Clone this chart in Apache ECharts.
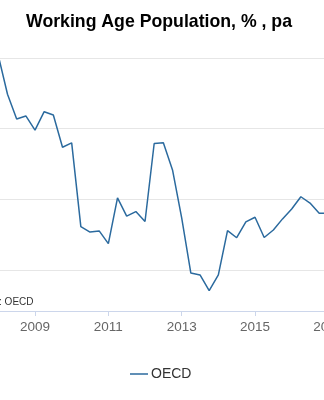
<!DOCTYPE html>
<html>
<head>
<meta charset="utf-8">
<script src="https://cdn.jsdelivr.net/npm/echarts@6/dist/echarts.min.js"></script>
<style>
html,body{margin:0;padding:0;background:#fff;}
#chart{width:324px;height:400px;}
</style>
</head>
<body>
<div id="chart"></div>
<script>
const titleText = "Working Age Population, % , pa";
const seriesName = "OECD";
const sourceText = "Source: OECD";
const quarters = ["2008Q1","2008Q2","2008Q3","2008Q4","2009Q1","2009Q2","2009Q3","2009Q4",
  "2010Q1","2010Q2","2010Q3","2010Q4","2011Q1","2011Q2","2011Q3","2011Q4",
  "2012Q1","2012Q2","2012Q3","2012Q4","2013Q1","2013Q2","2013Q3","2013Q4",
  "2014Q1","2014Q2","2014Q3","2014Q4","2015Q1","2015Q2","2015Q3","2015Q4",
  "2016Q1","2016Q2","2016Q3","2016Q4","2017Q1"];
const values = [1.21,1.046,0.941,0.954,0.894,0.972,0.958,0.821,
  0.840,0.484,0.461,0.466,0.412,0.606,0.529,0.548,
  0.506,0.837,0.840,0.725,0.521,0.287,0.279,0.212,
  0.279,0.467,0.437,0.504,0.524,0.438,0.470,0.517,
  0.559,0.611,0.584,0.541,0.541];
const xMin = 2007, xMax = 2019, xStep = 2;
const yMin = 0.126, yMax = 1.2;

const points = quarters.map((q, i) => {
  const y = parseInt(q.slice(0, 4), 10);
  const n = parseInt(q.slice(5), 10);
  return [y + (n - 1) / 4, values[i]];
});

const chart = echarts.init(document.getElementById('chart'));
chart.setOption({
  animation: false,
  backgroundColor: '#ffffff',
  grid: { left: -38.33, right: -77.7, top: 58, bottom: 89, containLabel: false, outerBoundsMode: 'none' },
  graphic: [
    { type: 'text', x: 159, y: 22, style: { text: titleText, fontFamily: 'Liberation Sans, Arial, sans-serif', fontWeight: 'bold', fontSize: 17.7, fill: '#000', textAlign: 'center', textVerticalAlign: 'middle' } },
    { type: 'text', x: 33.5, y: 302, style: { text: sourceText, fontFamily: 'Liberation Sans, Arial, sans-serif', fontSize: 10, fill: '#333', textAlign: 'right', textVerticalAlign: 'middle' } }
  ],
  legend: {
    show: true, left: 125, top: 362, itemWidth: 18, itemHeight: 1.5, icon: 'rect',
    textStyle: { fontFamily: 'Liberation Sans, Arial, sans-serif', fontSize: 14, color: '#333', padding: [0, 0, 0, -2] },
    data: [seriesName]
  },
  xAxis: {
    type: 'value', min: xMin, max: xMax, interval: xStep,
    axisLine: { show: true, lineStyle: { color: '#ccd6eb', width: 1 } },
    axisTick: { show: true, length: 5, lineStyle: { color: '#ccd6eb' } },
    splitLine: { show: false },
    axisLabel: { color: '#666', fontSize: 13.5, fontFamily: 'Liberation Sans, Arial, sans-serif', margin: 9, formatter: v => String(Math.round(v)) }
  },
  yAxis: {
    type: 'value', min: yMin, max: yMax, splitNumber: 4,
    axisLine: { show: false }, axisTick: { show: false }, axisLabel: { show: false },
    splitLine: { show: true, lineStyle: { color: '#e6e6e6', width: 1 } }
  },
  series: [{
    name: seriesName, type: 'line', data: points, symbol: 'none',
    lineStyle: { color: '#2b6a9e', width: 1.5 }, itemStyle: { color: '#2b6a9e' }
  }]
});
</script>
</body>
</html>
